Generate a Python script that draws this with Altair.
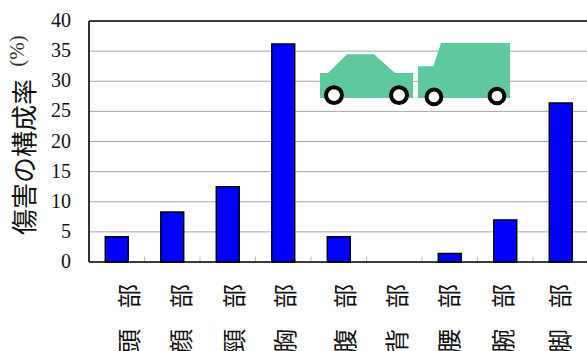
import altair as alt
import pandas as pd

parts = ["頭部", "顔部", "頸部", "胸部", "腹部", "背部", "腰部", "腕部", "脚部"]
rates = [4.2, 8.3, 12.5, 36.2, 4.2, 0.0, 1.4, 7.0, 26.4]
y_ticks = [0, 5, 10, 15, 20, 25, 30, 35, 40]

# Label columns sit a little apart from the bar centres, in category units
label_pos = [0.76, 1.70, 2.64, 3.57, 4.65, 5.59, 6.53, 7.50, 8.53]
label_top = [-5.64] * 9
label_low = [-13.1] * 9

# Vehicle outlines in axis units: (category position, upper edge)
car_base = 27.2
sedan_x = [4.162, 4.162, 4.306, 4.649, 5.135, 5.514, 5.838, 5.838]
sedan_top = [27.2, 31.37, 31.37, 34.5, 34.5, 31.37, 31.37, 27.2]
truck_x = [5.928, 5.928, 6.207, 6.342, 7.586, 7.586]
truck_top = [27.2, 32.5, 32.5, 36.35, 36.35, 27.2]

wheel_x = [4.414, 5.586, 6.216, 7.351]
wheel_y = [27.7, 27.7, 27.4, 27.55]
wheel_size = [254, 254, 216, 216]

PLOT_W = 498
PLOT_H = 241
BAND = 55.5
x_dom = [0, PLOT_W / BAND]

x_scale = alt.Scale(domain=x_dom, nice=False, zero=False, padding=0)
y_scale = alt.Scale(domain=[0, 40], nice=False, zero=False, padding=0)
X = lambda f: alt.X(f, type="quantitative", scale=x_scale, axis=None)
Y = lambda f: alt.Y(f, type="quantitative", scale=y_scale, axis=None)

bars_df = pd.DataFrame({"pos": [i + 0.5 for i in range(9)], "rate": rates})
grid_df = pd.DataFrame({"v": y_ticks})
band_df = pd.DataFrame({"b": list(range(1, 9)), "y0": [0] * 8, "y1": [0.9] * 8})

grid = alt.Chart(grid_df[grid_df.v.between(5, 35)]).mark_rule(color="#a6a6a6", strokeWidth=1).encode(
    y=Y("v"), x=alt.value(0), x2=alt.value(PLOT_W)
)
inner_ticks = alt.Chart(band_df).mark_rule(color="#bbbbbb", strokeWidth=1).encode(
    x=X("b"), y=Y("y0"), y2="y1"
)
bars = alt.Chart(bars_df[bars_df.rate > 0]).mark_bar(
    size=23, color="#0000ff", stroke="#000000", strokeWidth=1.4
).encode(x=X("pos"), y=Y("rate"), y2=alt.datum(0))

frame_top = alt.Chart(pd.DataFrame({"v": [40]})).mark_rule(color="#000000", strokeWidth=1.6).encode(
    y=Y("v"), x=alt.value(0), x2=alt.value(PLOT_W)
)
frame_bottom = alt.Chart(pd.DataFrame({"v": [0]})).mark_rule(color="#000000", strokeWidth=1.6).encode(
    y=Y("v"), x=alt.value(0), x2=alt.value(PLOT_W)
)
frame_left = alt.Chart(pd.DataFrame({"v": [0]})).mark_rule(color="#000000", strokeWidth=1.6).encode(
    x=X("v"), y=alt.value(0), y2=alt.value(PLOT_H)
)

tick_text = alt.Chart(grid_df).mark_text(
    align="right", baseline="middle", font="Liberation Serif", fontSize=20, color="#111111", dx=-18
).encode(x=alt.value(0), y=Y("v"), text=alt.Text("v:Q"))


def vehicle(xs, tops):
    df = pd.DataFrame({"x": xs, "top": tops, "base": [car_base] * len(xs)})
    return alt.Chart(df).mark_area(color="#5fc99e", opacity=1, interpolate="linear").encode(
        x=alt.X("x", type="quantitative", scale=x_scale, axis=None, sort=None),
        y=Y("top"),
        y2="base",
    )


wheels = alt.Chart(pd.DataFrame({"x": wheel_x, "y": wheel_y, "s": wheel_size})).mark_point(
    shape="circle", filled=True, fill="#ffffff", stroke="#000000", strokeWidth=4, opacity=1
).encode(
    x=X("x"), y=Y("y"),
    size=alt.Size("s", type="quantitative", scale=None, legend=None),
)

labels_df = pd.DataFrame({
    "x": label_pos,
    "top": label_top,
    "low": label_low,
    "first": [p[0] for p in parts],
    "second": [p[1] for p in parts],
})
label_style = dict(font="Noto Sans CJK JP", fontSize=24, angle=270, color="#111111",
                   align="center", baseline="middle")
labels_top = alt.Chart(labels_df).mark_text(**label_style).encode(x=X("x"), y=Y("top"), text="second")
labels_low = alt.Chart(labels_df).mark_text(**label_style).encode(x=X("x"), y=Y("low"), text="first")

title_main = alt.Chart(pd.DataFrame({"t": ["傷害の構成率"]})).mark_text(
    font="Noto Sans CJK JP", fontSize=26, angle=270, color="#111111", align="center", baseline="middle"
).encode(x=alt.value(-63), y=alt.value(136), text="t")
title_unit = alt.Chart(pd.DataFrame({"t": ["(%)"]})).mark_text(
    font="Liberation Serif", fontSize=21, angle=270, color="#333333", align="center", baseline="middle"
).encode(x=alt.value(-71), y=alt.value(30), text="t")

chart = alt.layer(
    grid, inner_ticks, bars, vehicle(sedan_x, sedan_top), vehicle(truck_x, truck_top), wheels,
    frame_top, frame_bottom, frame_left, tick_text, labels_top, labels_low, title_main, title_unit,
).properties(
    width=PLOT_W,
    height=PLOT_H,
    autosize=alt.AutoSizeParams(type="none"),
    padding={"left": 89, "top": 21, "right": 0, "bottom": 89},
).configure_view(stroke=None).configure(background="#ffffff")

chart.save("out.html", embed_options={"renderer": "svg", "actions": False})
